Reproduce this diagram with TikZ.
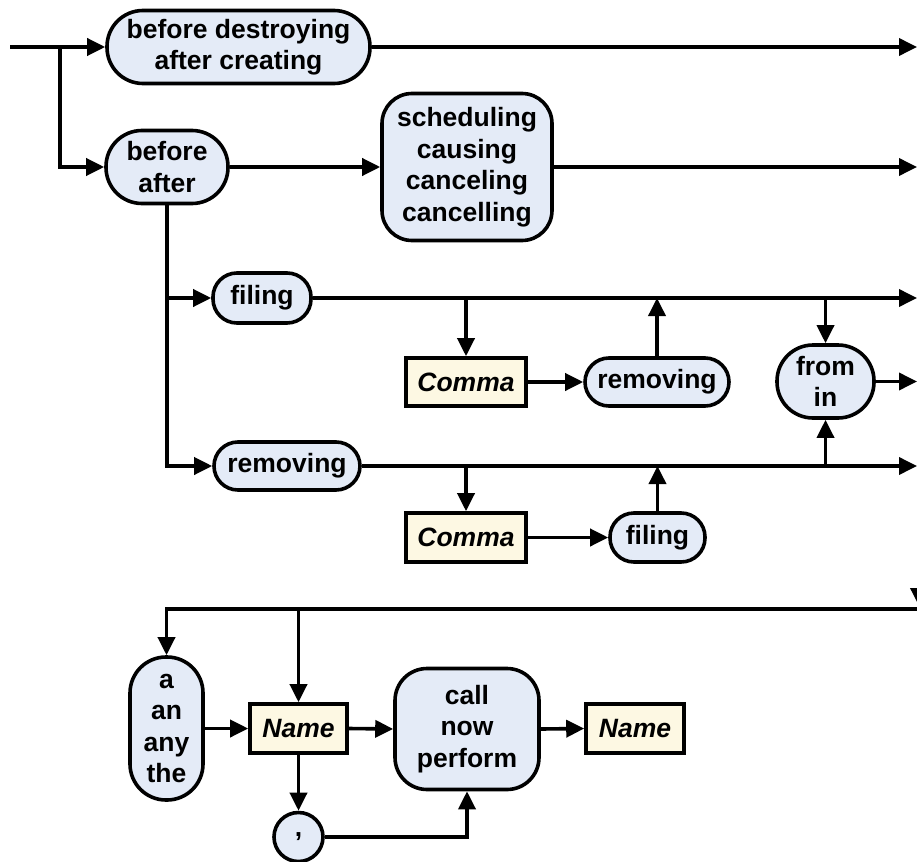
\documentclass[tikz,border=0pt]{standalone}
\usepackage{fontspec}
\setmainfont{Liberation Sans}
\usetikzlibrary{arrows.meta}
\definecolor{termfill}{HTML}{E4EBF7}
\definecolor{reffill}{HTML}{FDF8E3}
\begin{document}
\begin{tikzpicture}[x=1pt,y=-1pt,
  line width=3.6pt,
  every node/.style={font=\fontsize{26.5}{31.5}\selectfont\bfseries,
                     align=center, inner sep=0pt},
  term/.style={draw, fill=termfill},
  nonterm/.style={draw, fill=reffill, font=\fontsize{26.5}{31.5}\selectfont\bfseries\itshape},
  flow/.style={-{Triangle[length=18pt,width=17pt]}}]
\useasboundingbox (0,0) rectangle (917,861);

% keyword and reference nodes
\node[term, rounded corners=36pt, minimum width=263pt, minimum height=73pt]
  (n1) at (238.5,47) {before destroying\\after creating};
\node[term, rounded corners=36pt, minimum width=122pt, minimum height=73pt]
  (n2) at (167,167) {before\\after};
\node[term, rounded corners=30pt, minimum width=170pt, minimum height=147pt]
  (n3) at (467,167) {scheduling\\causing\\canceling\\cancelling};
\node[term, rounded corners=24pt, minimum width=98pt, minimum height=50pt]
  (filing) at (262,298) {filing};
\node[term, rounded corners=24pt, minimum width=146pt, minimum height=48pt]
  (removing) at (287,466) {removing};
\node[nonterm, minimum width=120pt, minimum height=48pt]
  (comma1) at (466,382) {Comma};
\node[term, rounded corners=24pt, minimum width=144pt, minimum height=48pt]
  (removing2) at (657,382) {removing};
\node[term, rounded corners=36pt, minimum width=97pt, minimum height=73pt]
  (fromin) at (825.5,381.5) {from\\in};
\node[nonterm, minimum width=120pt, minimum height=49pt]
  (comma2) at (466,537.5) {Comma};
\node[term, rounded corners=24pt, minimum width=95pt, minimum height=49pt]
  (filing2) at (657.5,537.5) {filing};

\node[term, rounded corners=36pt, minimum width=73pt, minimum height=143pt]
  (art) at (166.5,728.5) {a\\an\\any\\the};
\node[nonterm, minimum width=97pt, minimum height=49pt]
  (name1) at (298.5,728.5) {Name};
\node[term, rounded corners=32pt, minimum width=144pt, minimum height=121pt]
  (call) at (467,729) {call\\now\\perform};
\node[nonterm, minimum width=98pt, minimum height=49pt]
  (name2) at (635,728.5) {Name};
\node[term, circle, minimum size=49pt]
  (sep) at (298.5,837) {,};

% junctions and open ends
\coordinate (start) at (10,47);
\coordinate (j1) at (60,47);
\coordinate (e1) at (917,47);
\coordinate (e2) at (917,167);
\coordinate (e3) at (917,298);
\coordinate (e4) at (917,466);
\coordinate (e5) at (917,381.5);
\coordinate (b3) at (466,298);
\coordinate (u3) at (657,298);
\coordinate (d3) at (825.5,298);
\coordinate (b4) at (466,466);
\coordinate (u4) at (657.5,466);
\coordinate (d4) at (825.5,466);
\coordinate (w0) at (917,609);
\coordinate (w2) at (298.5,609);
\coordinate (c0) at (919,583);
\coordinate (c1) at (919,606);

% upper part
\draw[flow] (start) -- (n1.west);
\draw[flow] (j1) |- (n2.west);
\draw[flow] (n1.east) -- (e1);
\draw[flow] (n2.east) -- (n3.west);
\draw[flow] (n3.east) -- (e2);
\draw[flow] (n2.south) |- (filing.west);
\draw[flow] (n2.south) |- (removing.west);
\draw[flow] (filing.east) -- (e3);
\draw[flow] (removing.east) -- (e4);

\draw[flow] (b3) -- (comma1.north);
\draw[flow] (comma1.east) -- (removing2.west);
\draw[flow] (removing2.north) -- (u3);
\draw[flow] (d3) -- (fromin.north);
\draw[flow] (d4) -- (fromin.south);
\draw[flow] (fromin.east) -- (e5);

\draw[flow] (b4) -- (comma2.north);
\draw[flow] (comma2.east) -- (filing2.west);
\draw[flow] (filing2.north) -- (u4);

% continuation and lower part
\draw[flow] (c0) -- (c1);
\draw[flow] (w0) -| (art.north);
\draw[flow] (w2) -- (name1.north);
\draw[flow] (art.east) -- (name1.west);
\draw[flow] (name1.east) -- (call.west);
\draw[flow] (call.east) -- (name2.west);
\draw[flow] (name1.south) -- (sep.north);
\draw[flow] (sep.east) -| (call.south);
\end{tikzpicture}
\end{document}
